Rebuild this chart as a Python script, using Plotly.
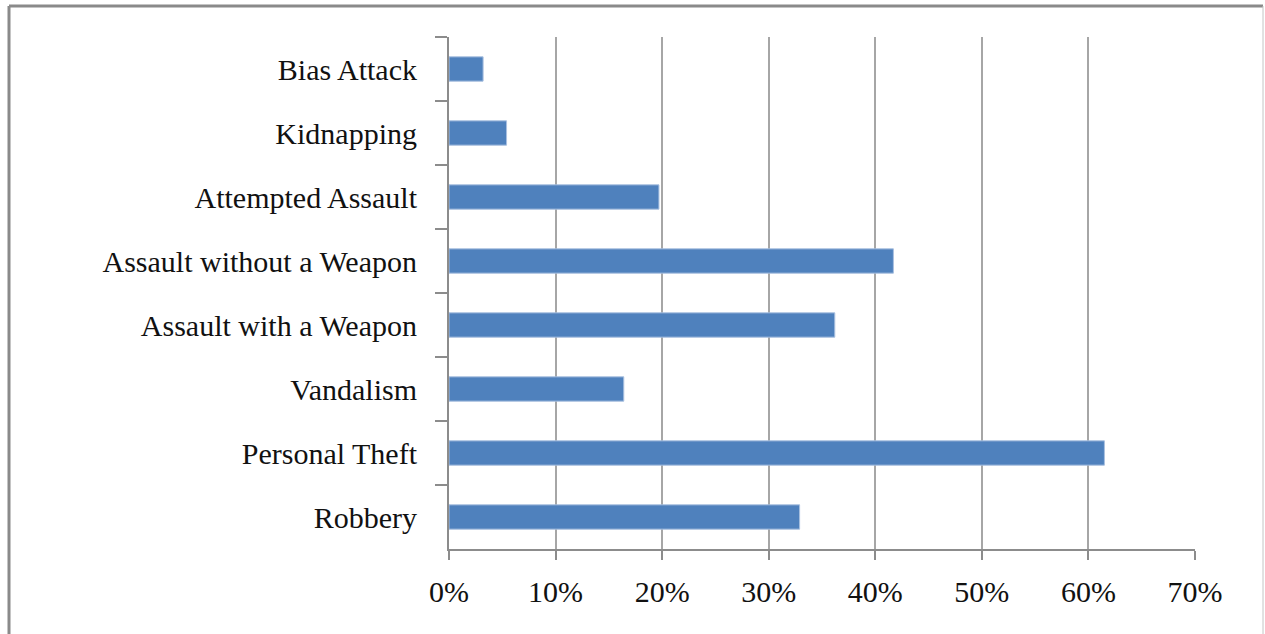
import plotly.graph_objects as go

# Crime categories (top to bottom) and share of respondents reporting each
categories = [
    "Bias Attack",
    "Kidnapping",
    "Attempted Assault",
    "Assault without a Weapon",
    "Assault with a Weapon",
    "Vandalism",
    "Personal Theft",
    "Robbery",
]
shares = [0.032, 0.054, 0.197, 0.417, 0.362, 0.164, 0.615, 0.329]

x_ticks = [0, 0.1, 0.2, 0.3, 0.4, 0.5, 0.6, 0.7]
x_tick_labels = ["0%", "10%", "20%", "30%", "40%", "50%", "60%", "70%"]

W, H = 1265, 634
ML, MR, MT, MB = 449, 70, 37, 85
PW, PH = W - ML - MR, H - MT - MB


def px_to_paper_x(px):
    return (px - ML) / PW


def px_to_paper_y(py):
    return (H - MB - py) / PH


serif = "Liberation Serif, Times New Roman, serif"
axis_grey = "#8c8c8c"
grid_grey = "#a6a6a6"
label_font = dict(family=serif, size=30, color="#111111")

fig = go.Figure(
    go.Bar(
        x=shares,
        y=categories,
        orientation="h",
        width=0.38,
        marker=dict(color="#4F81BD", line=dict(color="#A9C0E0", width=1)),
        hoverinfo="x+y",
    )
)

fig.update_layout(
    width=W,
    height=H,
    margin=dict(l=ML, r=MR, t=MT, b=MB),
    paper_bgcolor="white",
    plot_bgcolor="white",
    showlegend=False,
    font=label_font,
    xaxis=dict(
        range=[0, 0.7],
        tickvals=x_ticks,
        ticktext=x_tick_labels,
        showgrid=True,
        gridcolor=grid_grey,
        gridwidth=2,
        zeroline=False,
        showline=True,
        linecolor=axis_grey,
        linewidth=2,
        ticks="outside",
        ticklen=9,
        tickwidth=2,
        tickcolor=axis_grey,
        ticklabelstandoff=6,
        tickfont=label_font,
        fixedrange=True,
    ),
    yaxis=dict(
        type="category",
        categoryorder="array",
        categoryarray=categories,
        autorange="reversed",
        showgrid=False,
        zeroline=False,
        showline=True,
        linecolor=axis_grey,
        linewidth=2,
        ticks="outside",
        tickson="boundaries",
        ticklen=12,
        tickwidth=2,
        tickcolor=axis_grey,
        ticklabelstandoff=24,
        tickfont=label_font,
        fixedrange=True,
    ),
    shapes=[
        # chart frame: heavier top and left edges, light right edge
        dict(type="line", xref="paper", yref="paper",
             x0=px_to_paper_x(9), x1=px_to_paper_x(1263),
             y0=px_to_paper_y(6), y1=px_to_paper_y(6),
             line=dict(color="#8a8a8a", width=3)),
        dict(type="line", xref="paper", yref="paper",
             x0=px_to_paper_x(9), x1=px_to_paper_x(9),
             y0=px_to_paper_y(6), y1=px_to_paper_y(640),
             line=dict(color="#8a8a8a", width=3)),
        dict(type="line", xref="paper", yref="paper",
             x0=px_to_paper_x(1263), x1=px_to_paper_x(1263),
             y0=px_to_paper_y(6), y1=px_to_paper_y(640),
             line=dict(color="#c4c4c4", width=1)),
    ],
)

fig.write_html("out.html")
